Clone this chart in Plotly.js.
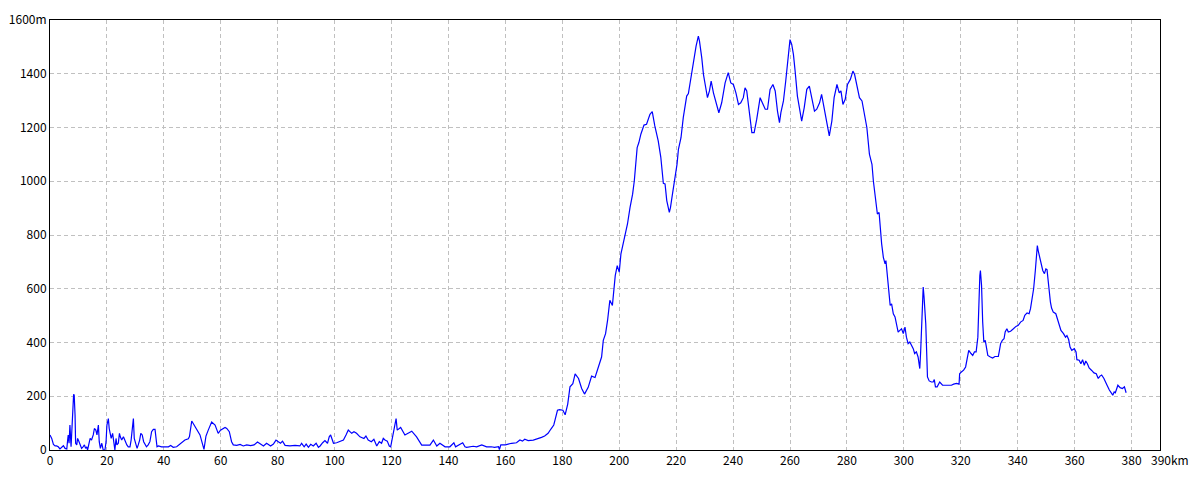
<!DOCTYPE html>
<html>
<head>
<meta charset="utf-8">
<script src="https://cdn.plot.ly/plotly-3.0.1.min.js"></script>
<style>html,body{margin:0;padding:0;background:#fff;}#chart{width:1200px;height:480px;}</style>
</head>
<body>
<div id="chart"></div>
<script>
const distanceKm = [
0.0,0.6,1.2,1.8,2.3,2.9,3.5,4.1,4.7,5.3,5.9,6.2,6.4,6.7,7.0,7.4,7.6,7.9,8.3,8.5,8.8,9.0,9.4,9.7,10.2,10.7,11.1,11.6,12.1,12.5,12.9,13.2,13.7,14.1,14.6,15.2,15.6,16.1,16.5,17.0,17.3,17.7,18.2,18.7,19.3,19.7,20.0,20.5,20.8,21.2,21.5,22.0,22.4,22.8,23.2,23.5,24.0,24.4,24.7,25.2,25.8,26.4,27.0,27.5,28.1,28.5,28.9,29.3,29.6,30.1,30.6,31.0,31.5,31.9,32.4,32.9,33.4,33.9,34.5,35.1,35.7,36.3,36.9,37.3,37.6,38.1,39.2,40.4,41.6,42.4,43.3,44.5,46.3,47.4,48.6,49.0,49.8,50.6,51.5,52.7,54.1,54.8,55.6,56.8,58.0,59.1,59.9,61.5,62.1,63.0,63.8,64.4,65.6,66.8,67.9,69.1,70.5,71.7,72.9,73.8,75.0,76.1,77.5,78.5,79.4,80.2,81.0,81.7,82.6,84.3,86.1,87.8,88.4,89.3,90.0,90.8,91.6,92.5,93.5,94.3,94.9,95.8,96.6,97.5,98.1,98.6,99.2,99.6,100.7,101.9,103.1,104.0,104.8,106.0,106.8,107.7,108.9,110.3,111.0,111.8,112.9,113.8,114.8,115.7,116.5,117.1,117.7,118.5,119.2,119.7,120.4,121.2,121.6,122.0,122.6,123.2,124.7,127.1,128.8,130.6,131.8,133.5,134.7,135.9,137.0,138.8,140.5,141.2,141.9,142.5,143.5,145.0,145.8,146.4,148.7,149.9,151.7,153.4,155.0,156.2,157.6,157.9,158.4,160.0,162.2,163.9,165.1,166.0,166.8,168.0,169.8,171.5,172.7,173.8,175.0,176.0,177.0,177.5,178.3,179.0,180.2,181.0,181.9,182.7,183.7,184.5,185.7,186.8,187.8,189.1,190.3,191.5,193.0,193.8,194.4,195.2,195.9,196.7,197.6,198.1,198.6,199.3,200.0,200.6,201.4,202.1,202.9,203.8,204.7,205.3,205.8,206.3,206.9,207.6,208.7,209.6,210.8,211.6,212.5,213.7,214.6,215.5,216.1,216.7,217.6,218.0,218.7,219.5,220.3,220.8,221.7,222.5,223.7,224.3,225.1,226.1,227.0,227.8,228.2,229.0,229.6,230.4,231.0,231.7,232.3,233.1,234.1,235.0,236.0,237.2,238.3,239.2,240.1,241.0,241.9,242.7,243.6,244.2,244.8,245.7,246.6,247.4,248.3,249.5,250.3,251.3,252.1,253.0,254.0,254.8,255.6,256.3,256.8,257.7,258.5,259.2,260.0,260.6,261.2,261.8,262.6,263.3,264.1,265.0,265.9,266.8,267.7,268.6,269.4,270.4,271.1,272.1,273.0,273.8,274.7,275.5,276.5,277.3,277.9,278.6,279.4,280.2,281.2,282.1,282.7,283.7,284.4,285.3,286.1,287.0,287.9,288.8,289.3,289.8,290.2,290.7,291.3,291.6,292.2,292.8,293.4,293.7,294.2,294.6,295.2,295.7,296.3,296.9,297.5,298.0,298.6,299.2,299.8,300.4,300.9,301.5,302.1,302.7,303.3,303.8,304.4,305.0,305.6,305.9,306.2,306.5,306.8,307.1,307.7,308.3,308.9,309.7,310.3,310.7,311.1,311.7,312.6,313.6,314.7,315.5,316.7,317.5,318.5,319.4,319.6,320.2,321.0,321.7,322.2,322.8,323.6,324.2,324.8,325.4,326.0,326.3,326.7,326.9,327.3,327.7,328.1,328.6,328.9,329.5,330.4,331.2,332.0,333.2,333.5,334.0,334.6,335.2,335.6,336.2,336.7,337.5,338.5,339.4,340.2,341.0,341.9,342.5,343.3,344.0,344.5,345.0,345.6,346.2,346.5,346.9,347.2,347.7,348.2,348.8,349.4,349.9,350.3,350.6,351.1,351.5,351.9,352.5,353.4,354.0,354.6,355.2,356.1,356.8,357.3,357.9,358.4,359.0,359.9,360.5,360.8,361.6,362.2,362.8,363.4,363.9,364.5,365.1,366.0,366.8,367.6,368.3,368.9,369.5,370.3,370.9,371.4,372.2,372.8,373.4,373.9,374.3,374.7,375.2,376.0,376.8,377.5,377.8,378.1
];
const elevationM = [
56,43,21,15,15,12,4,9,16,6,4,37,56,25,93,12,56,130,207,205,130,25,19,43,31,12,6,12,19,6,12,0,31,43,37,56,80,74,56,93,31,6,25,0,0,31,93,117,80,62,43,62,25,0,43,19,25,62,49,37,49,31,19,12,12,37,80,117,43,19,6,19,37,62,56,31,19,12,19,31,68,77,77,43,12,15,12,12,12,17,10,12,27,37,42,50,108,93,80,56,2,52,74,104,93,62,74,84,80,68,31,19,17,21,15,19,16,19,30,22,15,25,15,22,37,31,25,33,17,15,17,15,25,12,22,10,21,15,25,10,15,27,35,25,49,56,37,25,27,32,37,56,74,62,68,62,49,43,52,37,31,40,15,31,25,43,37,33,15,12,49,105,117,74,80,84,56,70,49,18,18,18,37,15,25,12,12,19,27,12,19,27,12,10,14,12,19,12,12,10,12,2,19,19,25,27,37,33,40,35,37,42,47,52,62,78,93,114,148,150,148,131,171,235,247,283,266,229,208,233,275,270,315,346,408,433,482,557,538,600,649,686,662,730,767,804,841,903,952,1002,1051,1125,1144,1175,1209,1212,1249,1259,1206,1150,1090,992,990,928,884,902,952,1002,1063,1119,1162,1237,1317,1326,1379,1447,1503,1540,1521,1459,1397,1348,1311,1336,1373,1329,1286,1255,1292,1366,1404,1366,1360,1329,1286,1292,1311,1348,1336,1249,1181,1181,1230,1311,1292,1268,1268,1342,1360,1336,1261,1218,1255,1299,1373,1459,1527,1509,1472,1410,1317,1274,1224,1274,1342,1354,1305,1261,1268,1292,1323,1261,1212,1169,1224,1311,1360,1329,1336,1286,1305,1360,1379,1410,1397,1348,1311,1299,1249,1200,1101,1063,1000,960,915,878,884,841,767,717,693,705,643,581,538,544,507,495,457,439,445,451,433,457,420,396,402,390,377,359,365,346,303,365,457,557,606,569,470,272,257,253,253,262,235,235,253,241,241,243,241,245,248,245,284,290,297,309,340,371,359,352,365,365,420,544,649,668,612,476,402,408,383,352,346,342,348,348,365,396,408,414,439,451,439,442,451,460,464,476,482,501,510,507,526,557,600,668,717,761,742,721,693,668,656,674,671,637,600,550,528,513,507,489,464,445,433,420,426,411,383,371,377,365,336,334,321,336,315,331,321,305,296,287,284,266,275,279,266,250,241,223,213,204,216,213,225,241,232,229,235,216,213
];
const xTickVals = [0,20,40,60,80,100,120,140,160,180,200,220,240,260,280,300,320,340,360,380,390];
const xTickText = ["0","20","40","60","80","100","120","140","160","180","200","220","240","260","280","300","320","340","360","380",""];
const xEndLabel = "390km";
const yTickVals = [0,200,400,600,800,1000,1200,1400,1600];
const yTickText = ["0","200","400","600","800","1000","1200","1400","1600m"];

const font = {family: '"Noto Sans CJK JP", "DejaVu Sans", sans-serif', size: 12, color: '#000'};
const axisCommon = {
  showline: true, mirror: true, linecolor: '#000', linewidth: 1,
  showgrid: true, gridcolor: '#c0c0c0', griddash: '4px,3px', gridwidth: 1,
  zeroline: false, ticks: '', tickfont: font, fixedrange: true, tickangle: 0
};
Plotly.newPlot('chart', [{
  x: distanceKm, y: elevationM, type: 'scatter', mode: 'lines',
  line: {color: '#0000ff', width: 1.2}, hoverinfo: 'skip'
}], {
  width: 1200, height: 480,
  margin: {l: 50, r: 40, t: 20, b: 30, pad: 0},
  paper_bgcolor: '#fff', plot_bgcolor: '#fff',
  showlegend: false, font: font,
  xaxis: Object.assign({}, axisCommon, {range: [0, 390], tickmode: 'array', tickvals: xTickVals, ticktext: xTickText}),
  yaxis: Object.assign({}, axisCommon, {range: [0, 1600], tickmode: 'array', tickvals: yTickVals, ticktext: yTickText}),
  annotations: [{
    x: 390, xref: 'x', y: 0, yref: 'paper', text: xEndLabel, showarrow: false,
    xanchor: 'left', yanchor: 'top', xshift: -10, yshift: 0, font: font, borderpad: 0
  }]
}, {displayModeBar: false, staticPlot: true});
</script>
</body>
</html>
